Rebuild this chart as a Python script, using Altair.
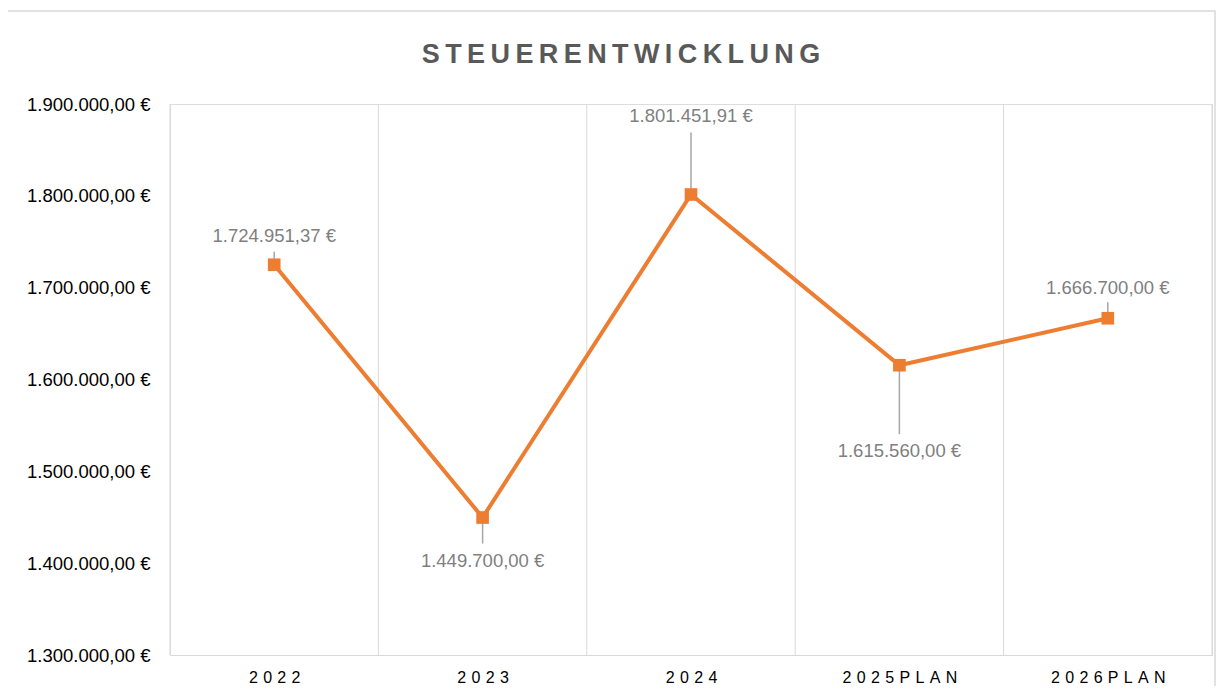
import altair as alt
import pandas as pd

# ---- data ----
categories = ["2022", "2023", "2024", "2025 PLAN", "2026 PLAN"]
values = [1724951.37, 1449700.00, 1801451.91, 1615560.00, 1666700.00]
y_ticks = [1300000, 1400000, 1500000, 1600000, 1700000, 1800000, 1900000]
title_text = "STEUERENTWICKLUNG"

# ---- style / layout ----
W, H = 1042, 551
Y_MIN, Y_MAX = 1300000, 1900000
UPP = (Y_MAX - Y_MIN) / H  # data units per pixel
# label placement (pixels relative to point; negative = above)
label_dy = [-29, 43, -79, 86, -30]
leader_from = [-13, 4, -62, 3, -16]
leader_to = [-2, 26, 0, 69, -3]

ORANGE = "#ED7D31"
GRID = "#D9D9D9"
FONT = "Liberation Sans"

def spaced(s, sep):
    return sep.join(s.replace(" ", ""))

df = pd.DataFrame({
    "cat": categories,
    "idx": list(range(len(categories))),
    "value": values,
})
df["label_pos"] = [v - d * UPP for v, d in zip(values, label_dy)]
df["lead_a"] = [v - d * UPP for v, d in zip(values, leader_from)]
df["lead_b"] = [v - d * UPP for v, d in zip(values, leader_to)]

bounds = pd.DataFrame({"b": [i - 0.5 for i in range(len(categories) + 1)]})

x_labels = [spaced(c, "\u2004") for c in categories]
label_expr = "[" + ",".join("'" + l + "'" for l in x_labels) + "][datum.value]"

xscale = alt.Scale(domain=[-0.5, len(categories) - 0.5], nice=False, zero=False)
yscale = alt.Scale(domain=[Y_MIN, Y_MAX], nice=False, zero=False)

x_axis = alt.Axis(values=list(range(len(categories))), labelExpr=label_expr,
                  grid=False, ticks=False, domain=True, domainColor=GRID,
                  domainWidth=1, labelFont=FONT, labelFontSize=16,
                  labelColor="#000000", labelPadding=14, title=None)

base = alt.Chart(df)

grid = alt.Chart(bounds).mark_rule(color=GRID, strokeWidth=1).encode(
    x=alt.X("b:Q", scale=xscale, axis=x_axis),
    y=alt.value(0),
    y2=alt.value(H),
)

line = base.mark_line(color=ORANGE, strokeWidth=4).encode(
    x=alt.X("idx:Q", scale=xscale, axis=x_axis),
    y=alt.Y("value:Q", scale=yscale,
            axis=alt.Axis(values=y_ticks, format="$,.2f", grid=False, ticks=False,
                          domain=False, labelFont=FONT, labelFontSize=18.5,
                          labelColor="#000000", labelPadding=20, title=None)),
)

points = base.mark_point(shape="square", filled=True, size=160, color=ORANGE, opacity=1).encode(
    x=alt.X("idx:Q", scale=xscale),
    y=alt.Y("value:Q", scale=yscale),
)

leaders = base.mark_rule(color="#A6A6A6", strokeWidth=1.5).encode(
    x=alt.X("idx:Q", scale=xscale),
    y=alt.Y("lead_a:Q", scale=yscale),
    y2="lead_b:Q",
)

labels = base.mark_text(font=FONT, fontSize=18.5, color="#7F7F7F", align="center",
                        baseline="middle").encode(
    x=alt.X("idx:Q", scale=xscale),
    y=alt.Y("label_pos:Q", scale=yscale),
    text=alt.Text("value:Q", format="$,.2f"),
)

one = alt.Data(values=[{"t": spaced(title_text, "\u2009")}])
title = alt.Chart(one).mark_text(font=FONT, fontSize=27, fontWeight="bold",
                                 color="#595959", align="center", baseline="middle").encode(
    x=alt.value(451), y=alt.value(-49), text="t:N")

border = alt.Chart(one).mark_rect(fillOpacity=0, stroke=GRID, strokeWidth=1.5).encode(
    x=alt.value(-163), x2=alt.value(1045), y=alt.value(-93), y2=alt.value(600))

chart = alt.layer(border, grid, leaders, line, points, labels, title).properties(
    width=W, height=H,
    autosize=alt.AutoSizeParams(type="none"),
    padding={"left": 162, "top": 96, "right": 4, "bottom": 31},
).configure_view(stroke=None).configure(
    background="white",
    locale={"number": {"decimal": ",", "thousands": ".", "grouping": [3],
                       "currency": ["", " \u20ac"]}},
)

chart.save("out.html", embed_options={"renderer": "svg", "actions": False})
